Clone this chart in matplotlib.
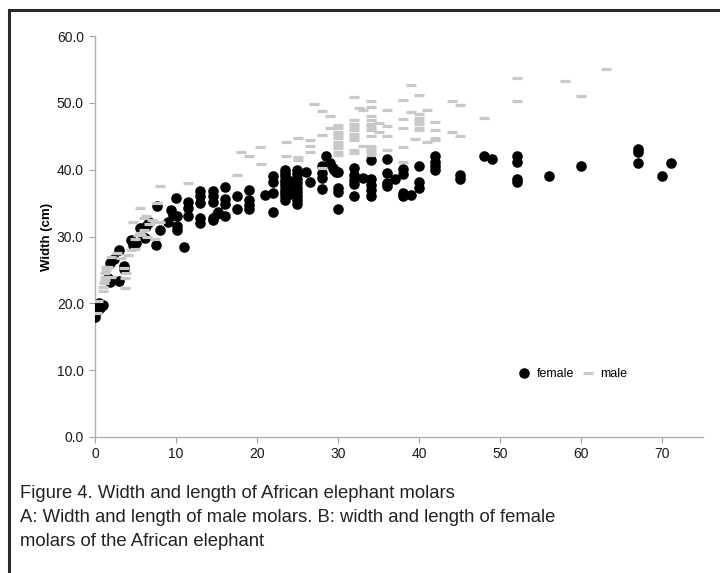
import matplotlib
matplotlib.use('Agg')
import matplotlib.pyplot as plt
from matplotlib.patches import Rectangle

plt.rcParams['font.family'] = ['Liberation Sans', 'DejaVu Sans']

# female molars: length (cm) vs width (cm)
female_x = [0.0, 0.3, 0.6, 0.8, 1.0, 0.5, 1.8, 3.0, 1.6, 1.9, 2.3, 3.0, 3.6, 3.6,
            4.5, 4.7, 5.0, 4.9, 5.9, 6.2, 5.6, 6.3, 6.7, 7.5, 8.0, 7.6, 9.4, 9.6, 9.0,
            10.0, 10.1, 10.1, 10.1, 11.0, 11.5, 11.5, 11.5,
            13.0, 13.0, 13.0, 13.0, 13.0,
            14.5, 14.5, 14.5, 14.5, 14.5, 15.0, 15.2,
            16.0, 16.0, 16.0, 16.0,
            17.5, 17.5,
            19.0, 19.0, 19.0, 19.0,
            21.0,
            22.0, 22.0, 22.0, 22.0,
            23.4, 23.4, 23.4, 23.4, 23.4, 23.4, 23.4, 23.4, 23.4, 23.4,
            24.0, 24.0, 24.0,
            24.9, 24.9, 24.9, 24.9, 24.9, 24.9, 24.9, 24.9, 24.9,
            26.0, 26.5,
            28.0, 28.0, 28.0, 28.0,
            28.5, 29.0, 29.3, 29.7, 30.0, 29.5,
            30.0, 30.0, 30.0,
            32.0, 32.0, 32.0, 32.0, 32.0,
            33.0,
            34.0, 34.0, 34.0, 34.0, 34.0,
            36.0, 36.0, 36.0, 36.0,
            37.0,
            38.0, 38.0, 38.0, 38.0,
            39.0,
            40.0, 40.0, 40.0,
            42.0, 42.0, 42.0, 42.0,
            45.0, 45.0,
            48.0, 49.0,
            52.0, 52.0, 52.0, 52.0,
            56.0, 60.0,
            67.0, 67.0, 67.0,
            70.0, 71.0]
female_y = [18.0, 18.8, 19.3, 19.6, 19.7, 20.0, 23.2, 23.3, 23.8, 26.1, 26.6, 28.0, 25.6, 25.2,
            29.5, 28.7, 29.0, 29.0, 30.0, 29.8, 31.2, 31.5, 32.2, 28.7, 31.0, 34.5, 34.0, 33.2, 32.2,
            35.7, 33.1, 31.5, 31.0, 28.5, 35.1, 34.2, 33.1,
            36.8, 36.0, 35.0, 32.8, 32.0,
            36.8, 36.0, 35.2, 32.8, 32.5, 33.3, 33.7,
            37.4, 35.6, 34.8, 33.0,
            36.0, 34.1,
            37.0, 35.5, 34.7, 34.1,
            36.2,
            39.1, 38.2, 36.5, 33.6,
            40.0, 39.5, 39.0, 38.5, 38.0, 37.5, 37.0, 36.5, 36.0, 35.5,
            38.3, 37.3, 36.3,
            40.0, 39.3, 38.6, 38.0, 37.3, 36.6, 36.0, 35.4, 34.9,
            39.7, 38.2,
            40.5, 39.5, 38.8, 37.1,
            42.1, 41.0, 40.3, 39.6, 39.6, 39.9,
            37.2, 36.6, 34.1,
            40.2, 39.2, 38.5, 37.9, 36.1,
            38.7,
            41.5, 38.6, 37.7, 37.0, 36.1,
            41.6, 39.5, 38.0, 37.5,
            38.6,
            40.1, 39.4, 36.5, 36.0,
            36.2,
            40.6, 38.1, 37.2,
            42.0, 41.2, 40.5, 39.9,
            39.2, 38.6,
            42.1, 41.6,
            42.1, 41.2, 38.6, 38.1,
            39.1, 40.6,
            43.1, 42.6, 41.0,
            39.1, 41.0]

# male molars
male_x = [0.3, 0.4, 1.0, 1.0, 1.1, 1.2, 1.2, 1.2, 1.3, 1.3, 1.6, 2.0, 2.0, 2.7, 3.2,
          3.7, 3.7, 3.8, 3.6, 4.1, 4.5, 4.9, 4.9, 5.3, 4.7, 5.5, 5.7, 6.0, 6.0, 6.4,
          6.3, 6.6, 7.0, 7.4, 7.4, 7.6, 5.5, 8.0, 8.0, 11.5, 17.5, 18.0, 19.0, 20.3,
          20.5, 23.5, 23.5, 25.0, 25.0, 25.0, 26.5, 26.5, 26.5, 27.0, 28.0, 29.0,
          28.0, 29.0, 28.0,
          30.0, 30.0, 30.0, 30.0, 30.0, 30.0, 30.0, 30.0, 30.0, 30.0,
          32.0, 32.0, 32.0, 32.0, 32.0, 32.0, 32.0, 32.0, 32.0, 32.0,
          33.0, 33.0, 32.6,
          34.0, 34.0, 34.0, 34.0, 34.0, 34.0, 34.0, 34.0, 34.0, 34.0, 34.0, 34.0,
          35.0, 35.0,
          36.0, 36.0, 36.0, 36.0,
          38.0, 38.0, 38.0, 38.0, 38.0,
          39.0, 39.0, 39.5,
          40.0, 40.0, 40.0, 40.0, 40.0, 40.0, 40.0,
          41.0, 41.0,
          42.0, 42.0, 42.0, 42.0,
          44.0, 44.0, 45.0, 45.0,
          48.0, 52.0, 52.0, 58.0, 60.0, 63.0]
male_y = [18.5, 20.3, 21.9, 22.5, 23.0, 23.5, 24.0, 24.5, 25.0, 25.4, 25.5, 24.0, 27.0, 27.5, 26.8,
          22.3, 23.8, 24.5, 25.3, 27.2, 28.0, 28.2, 29.7, 30.2, 32.1, 30.5, 30.2, 32.7, 31.0, 30.0,
          33.0, 31.8, 32.5, 29.6, 32.2, 35.0, 34.2, 37.6, 32.2, 38.0, 39.2, 42.6, 42.1, 43.4,
          40.9, 44.1, 42.1, 44.8, 41.9, 41.5, 44.5, 43.6, 42.6, 49.9, 48.8, 48.1,
          45.2, 46.2, 40.2,
          46.7, 46.2, 45.7, 45.2, 44.7, 44.2, 43.7, 43.2, 42.7, 42.2,
          50.9, 47.4, 46.9, 46.4, 45.9, 45.4, 44.9, 44.4, 42.9, 42.5,
          49.0, 43.5, 49.2,
          50.2, 49.4, 48.0, 47.4, 46.9, 46.4, 45.9, 45.0, 43.6, 43.1, 42.6, 42.2,
          47.0, 45.6,
          49.0, 46.5, 45.1, 43.0,
          50.4, 47.6, 46.2, 43.4, 41.1,
          52.6, 48.7, 44.6,
          51.1, 48.3, 47.8, 47.3, 46.8, 46.3, 45.9,
          48.9, 44.2,
          47.2, 46.0, 44.7, 44.4,
          50.2, 45.6, 49.7, 45.1,
          47.7, 53.7, 50.2, 53.3, 51.0, 55.0]

y_ticks = [0, 10, 20, 30, 40, 50, 60]
x_ticks = [0, 10, 20, 30, 40, 50, 60, 70]

caption = ['Figure 4. Width and length of African elephant molars',
           'A: Width and length of male molars. B: width and length of female',
           'molars of the African elephant']

W, H = 720, 573
fig = plt.figure(figsize=(W / 100, H / 100), dpi=100)
ax = fig.add_axes([95 / W, 1 - 437 / H, 608 / W, 401 / H])

ax.plot(female_x, female_y, 'o', ms=6.6, color='black', mec='black', label='female', zorder=3)
ax.plot(male_x, male_y, '_', ms=7.5, mew=2.3, color='#c8c8c8', label='male', zorder=4)

ax.set_xlim(0, 75)
ax.set_ylim(0, 60)
ax.set_yticks(y_ticks)
ax.set_yticklabels(['%.1f' % v for v in y_ticks])
ax.set_xticks(x_ticks)
ax.tick_params(axis='both', colors='#a0a0a0', labelcolor='#1a1a1a', labelsize=10,
               length=4, width=0.8, direction='out')
ax.tick_params(axis='y', pad=4)
ax.tick_params(axis='x', pad=3)
for side in ['top', 'right']:
    ax.spines[side].set_visible(False)
for side in ['left', 'bottom']:
    ax.spines[side].set_color('#b0b0b0')
    ax.spines[side].set_linewidth(1.0)

ax.set_ylabel('Width (cm)', fontsize=9.5, fontweight='bold', labelpad=3)
ax.set_xlabel('Length (cm)', fontsize=9.5, fontweight='bold', labelpad=6.5)

ax.legend(loc='center', bbox_to_anchor=(0.786, 0.157), ncol=2, frameon=False,
          fontsize=9, handlelength=1.0, handletextpad=0.5, columnspacing=0.6)

# the caption box hides most of the x label
fig.patches.append(Rectangle((20 / W, 0), 690 / W, 1 - 469 / H, transform=fig.transFigure,
                             facecolor='white', edgecolor='none', zorder=5))
fig.patches.append(Rectangle((8.5 / W, -0.1), 1.2, 1.1 - 10.5 / H, transform=fig.transFigure,
                             facecolor='none', edgecolor='#2a2a2a', lw=2.2, zorder=6))

for i, line in enumerate(caption):
    fig.text(20 / W, 1 - (494 + 23.5 * i) / H, line, fontsize=13.3, color='#222222',
             va='center', ha='left', zorder=7)

fig.savefig('out.png', dpi=100)
